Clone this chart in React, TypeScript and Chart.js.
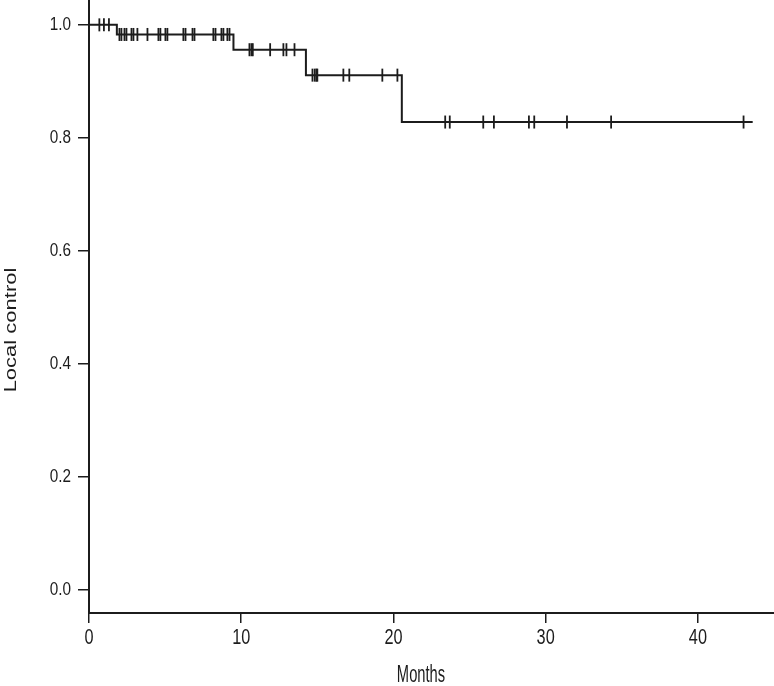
import React, { useEffect, useRef } from "react";
import { Chart, registerables } from "chart.js";

Chart.register(...registerables);

// Kaplan–Meier step curve: event times (months) and survival after each event
const eventTimes = [0, 1.83, 9.49, 14.25, 20.55];
const survival = [1.0, 0.983, 0.956, 0.911, 0.828];
const endTime = 43.6;

// Censoring times (months)
const censorTimes = [
  0.68, 0.98, 1.31,
  2.0, 2.13, 2.33, 2.46, 2.79, 2.92, 3.18, 3.84, 4.56, 4.69, 5.02, 5.15,
  6.2, 6.34, 6.8, 6.93, 8.17, 8.31, 8.7, 8.83, 9.09, 9.23,
  10.54, 10.67, 10.76, 11.9, 12.77, 12.97, 13.5,
  14.68, 14.83, 14.94, 15.0, 16.71, 17.1, 19.27, 20.26,
  23.4, 23.7, 25.9, 26.6, 28.9, 29.25, 31.4, 34.3, 43.0,
];

const xTicks = [0, 10, 20, 30, 40];
const yTicks = [0, 0.2, 0.4, 0.6, 0.8, 1.0];
const xTitle = "Months";
const yTitle = "Local control";

function survivalAt(t: number): number {
  let s = survival[0];
  for (let i = 0; i < eventTimes.length; i++) {
    if (eventTimes[i] <= t) s = survival[i];
  }
  return s;
}

const INK = "#1c1c1c";
const FONT = '"Liberation Sans", Arial, sans-serif';

// draw text horizontally condensed (the reference figure's type is narrow)
function drawText(
  ctx: CanvasRenderingContext2D,
  text: string,
  x: number,
  y: number,
  size: number,
  sx: number,
  align: CanvasTextAlign,
  rotate = false
) {
  ctx.save();
  ctx.font = `${size}px ${FONT}`;
  ctx.fillStyle = INK;
  ctx.textAlign = align;
  ctx.textBaseline = "middle";
  ctx.translate(x, y);
  if (rotate) {
    ctx.rotate(-Math.PI / 2);
    ctx.scale(1, sx);
  } else {
    ctx.scale(sx, 1);
  }
  ctx.fillText(text, 0, 0);
  ctx.restore();
}

const labelPlugin = {
  id: "axisLabels",
  afterDraw(chart: any) {
    const ctx = chart.ctx as CanvasRenderingContext2D;
    const xs = chart.scales.x;
    const ys = chart.scales.y;
    xTicks.forEach((v) => {
      drawText(ctx, String(v), xs.getPixelForValue(v), 638, 22, 0.74, "center");
    });
    yTicks.forEach((v) => {
      drawText(ctx, v.toFixed(1), 71, ys.getPixelForValue(v), 18, 0.85, "right");
    });
    drawText(ctx, xTitle, 421, 676, 23, 0.64, "center");
    drawText(ctx, yTitle, 11, 330, 22, 0.78, "center", true);
  },
};

export default function App() {
  const ref = useRef<HTMLCanvasElement | null>(null);

  useEffect(() => {
    if (!ref.current) return;
    const curve = eventTimes.map((t, i) => ({ x: t, y: survival[i] }));
    curve.push({ x: endTime, y: survival[survival.length - 1] });
    const censors = censorTimes.map((t) => ({ x: t, y: survivalAt(t) }));

    const chart = new Chart(ref.current, {
      type: "line",
      data: {
        datasets: [
          {
            data: curve,
            stepped: "before",
            borderColor: INK,
            borderWidth: 2,
            pointRadius: 0,
            fill: false,
            clip: false,
          },
          {
            data: censors,
            showLine: false,
            pointStyle: "line",
            rotation: 90,
            pointRadius: 6.5,
            pointBorderWidth: 1.8,
            pointBorderColor: INK,
            pointBackgroundColor: INK,
            borderColor: INK,
            clip: false,
          },
        ],
      },
      options: {
        responsive: false,
        animation: false,
        devicePixelRatio: 1,
        layout: { padding: 0, autoPadding: false },
        plugins: {
          legend: { display: false },
          tooltip: { enabled: false },
          title: { display: false },
        },
        scales: {
          x: {
            type: "linear",
            min: 0,
            max: 45,
            afterBuildTicks: (axis: any) => {
              axis.ticks = xTicks.map((v) => ({ value: v }));
            },
            afterFit: (scale: any) => {
              scale.height = 73;
              scale.paddingLeft = 0;
              scale.paddingRight = 0;
            },
            grid: {
              drawOnChartArea: false,
              drawTicks: true,
              tickLength: 10,
              color: INK,
              lineWidth: 1.5,
            },
            border: { display: true, color: INK, width: 2 },
            ticks: { display: false },
          },
          y: {
            type: "linear",
            min: -0.041,
            max: 1.044,
            afterBuildTicks: (axis: any) => {
              axis.ticks = yTicks.map((v) => ({ value: v }));
            },
            afterFit: (scale: any) => {
              scale.width = 89;
              scale.paddingTop = 0;
              scale.paddingBottom = 0;
            },
            grid: {
              drawOnChartArea: false,
              drawTicks: true,
              tickLength: 11,
              color: INK,
              lineWidth: 1.5,
            },
            border: { display: true, color: INK, width: 2 },
            ticks: { display: false },
          },
        },
      },
      plugins: [labelPlugin],
    });
    return () => chart.destroy();
  }, []);

  return (
    <div
      style={{
        position: "fixed",
        left: 0,
        top: 0,
        width: 774,
        height: 686,
        background: "#fff",
      }}
    >
      <canvas ref={ref} width={774} height={686} />
    </div>
  );
}
